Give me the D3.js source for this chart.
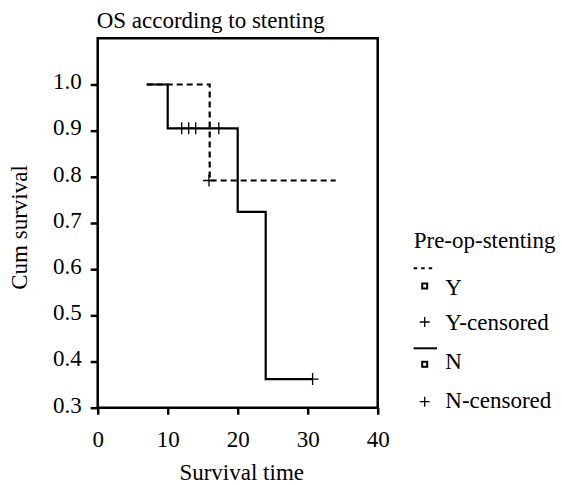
<!DOCTYPE html>
<html lang="en">
<head>
<meta charset="UTF-8">
<title>OS according to stenting</title>
<style>
    body { margin: 0; background: #fff; }
</style>
</head>
<body>
<svg id="chart" width="562" height="485"></svg>
<script src="https://d3js.org/d3.v7.min.js"></script>
<script>
    // Kaplan-Meier steps: [time, cum survival]
    const stepsY = [[7, 1.0], [16, 1.0], [16, 0.792], [34, 0.792]];
    const censorY = [[16, 0.792]];
    const stepsN = [[7, 1.0], [10, 1.0], [10, 0.905], [20, 0.905], [20, 0.724], [24, 0.724], [24, 0.362], [30.7, 0.362]];
    const censorN = [[12, 0.905], [13, 0.905], [14, 0.905], [17.3, 0.905], [30.7, 0.362]];
    const xTicks = [0, 10, 20, 30, 40];
    const yTicks = [0.3, 0.4, 0.5, 0.6, 0.7, 0.8, 0.9, 1.0];
    const legendItems = ['Y', 'Y-censored', 'N', 'N-censored'];

    const FONT = '"Liberation Serif", "Times New Roman", serif';
    const FS = '23px';
    const svg = d3.select('#chart');
    const plotLeft = 97.7, plotRight = 377.7, plotTop = 38.3, plotBottom = 407.7;

    const x = d3.scaleLinear().domain([0, 40]).range([plotLeft, plotRight]);
    const y = d3.scaleLinear().domain([0.3, 1.1]).range([plotBottom, plotTop]);

    // frame
    svg.append('path')
        .attr('d', `M${plotLeft},${plotBottom}V${plotTop}H${plotRight}V${plotBottom}Z`)
        .attr('fill', 'none').attr('stroke', '#000').attr('stroke-width', 2.5);

    const xAxis = svg.append('g').attr('transform', `translate(0,${plotBottom})`)
        .call(d3.axisBottom(x).tickValues(xTicks).tickSize(7).tickPadding(0));
    const yAxis = svg.append('g').attr('transform', `translate(${plotLeft},0)`)
        .call(d3.axisLeft(y).tickValues(yTicks).tickFormat(d3.format('.1f')).tickSize(7).tickPadding(9));

    [xAxis, yAxis].forEach(g => {
        g.select('.domain').remove();
        g.selectAll('line').attr('stroke', '#000').attr('stroke-width', 2.5);
    });
    xAxis.selectAll('text').attr('y', 39).attr('dy', 0);
    yAxis.selectAll('text').attr('dy', 4.3);

    const line = d3.line().x(d => x(d[0])).y(d => y(d[1]));

    svg.append('path').datum(stepsN).attr('d', line)
        .attr('fill', 'none').attr('stroke', '#000').attr('stroke-width', 2.2);
    svg.append('path').datum(stepsY).attr('d', line)
        .attr('fill', 'none').attr('stroke', '#000').attr('stroke-width', 2.2)
        .attr('stroke-dasharray', '6,4');

    function plus(g, cx, cy, s) {
        g.append('path')
            .attr('d', `M${cx - s},${cy}H${cx + s}M${cx},${cy - s}V${cy + s}`)
            .attr('stroke', '#000').attr('stroke-width', 1.3).attr('fill', 'none');
    }
    censorN.forEach(d => plus(svg, x(d[0]), y(d[1]), 6));
    censorY.forEach(d => plus(svg, x(d[0]) - 0.7, y(d[1]), 6));

    // titles
    svg.append('text').attr('x', 96.7).attr('y', 28)
        .text('OS according to stenting');
    svg.append('text').attr('x', 241.7).attr('y', 480)
        .attr('text-anchor', 'middle').text('Survival time');
    svg.append('text').attr('transform', 'translate(27,227.5) rotate(-90)')
        .attr('text-anchor', 'middle').text('Cum survival');

    // legend
    const lg = svg.append('g');
    lg.append('text').attr('x', 413.7).attr('y', 247.7).text('Pre-op-stenting');
    lg.append('line').attr('x1', 413.7).attr('x2', 436).attr('y1', 268.3).attr('y2', 268.3)
        .attr('stroke', '#000').attr('stroke-width', 2).attr('stroke-dasharray', '3.5,4');
    lg.append('line').attr('x1', 413.7).attr('x2', 437).attr('y1', 348.3).attr('y2', 348.3)
        .attr('stroke', '#000').attr('stroke-width', 2);
    const rows = [295, 330, 369, 407.7];
    const markY = [286, 322, 364.3, 401.7];
    legendItems.forEach((t, i) => {
        if (i % 2 === 0) {
            lg.append('rect').attr('x', 422.2).attr('y', markY[i] - 2.5).attr('width', 5).attr('height', 5)
                .attr('fill', '#fff').attr('stroke', '#000').attr('stroke-width', 2);
        } else {
            plus(lg, 424.7, markY[i], 5);
        }
        lg.append('text').attr('x', 445.3).attr('y', rows[i]).text(t);
    });

    svg.selectAll('text')
        .style('font-family', FONT).style('font-size', FS).attr('fill', '#000');
</script>
</body>
</html>
